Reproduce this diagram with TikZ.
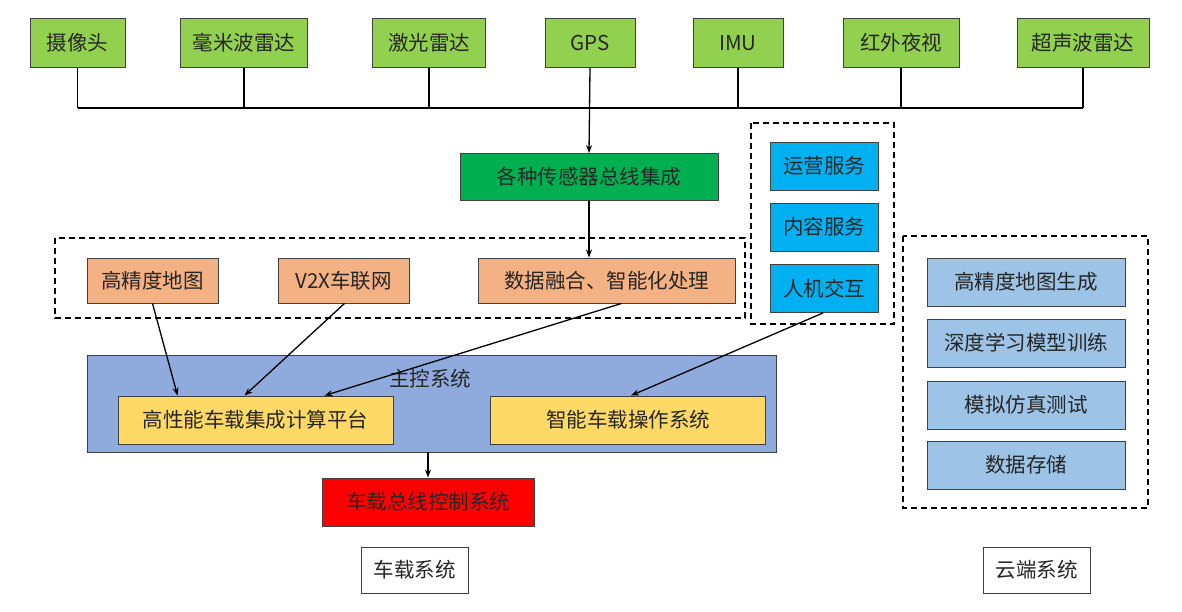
\documentclass[tikz,border=0pt]{standalone}
\usepackage{fontspec}
\setmainfont{Noto Sans CJK SC}
\usetikzlibrary{arrows.meta}
\definecolor{sensorgreen}{HTML}{92D050}
\definecolor{busgreen}{HTML}{00B050}
\definecolor{orangebox}{HTML}{F4B183}
\definecolor{servblue}{HTML}{00B0F0}
\definecolor{cloudblue}{HTML}{9DC3E6}
\definecolor{mainblue}{HTML}{8FAADC}
\definecolor{yellowbox}{HTML}{FFD966}
\definecolor{redbox}{HTML}{FF0000}
\definecolor{edge}{HTML}{404040}
\definecolor{ink}{HTML}{262626}
\begin{document}
\begin{tikzpicture}[x=1pt,y=-1pt,
  txt/.style={font=\fontsize{20.5}{24}\selectfont, text=ink},
  box/.style={draw=edge, line width=0.9pt, inner sep=0pt, txt},
  sensor/.style={box, fill=sensorgreen, minimum height=49pt},
  orng/.style={box, fill=orangebox, minimum height=45pt},
  serv/.style={box, fill=servblue, minimum width=108pt, minimum height=48pt},
  cloud/.style={box, fill=cloudblue, minimum width=198pt, minimum height=48pt},
  yel/.style={box, fill=yellowbox, minimum width=275pt, minimum height=48pt},
  group/.style={draw=black, line width=1.4pt, dash pattern=on 6pt off 4pt},
  conn/.style={draw=black, line width=1.3pt},
  arr/.style={conn, -{Stealth[length=8pt,width=6pt]}}
]
\useasboundingbox (0,0) rectangle (1182,612);

% sensors
\node[sensor, minimum width=95pt]  (s1) at (77.5,43) {摄像头};
\node[sensor, minimum width=127pt] (s2) at (244,43) {毫米波雷达};
\node[sensor, minimum width=113pt] (s3) at (429,43) {激光雷达};
\node[sensor, minimum width=90pt]  (s4) at (590,43) {GPS};
\node[sensor, minimum width=90pt]  (s5) at (738,43) {IMU};
\node[sensor, minimum width=116pt] (s6) at (901,43) {红外夜视};
\node[sensor, minimum width=132pt] (s7) at (1083,43) {超声波雷达};
\coordinate (bus) at (0,108);
\foreach \s in {s1,s2,s3,s5,s6,s7} {\draw[conn] (\s.south) -- (\s.south |- bus);}
\draw[conn] (s1.south |- bus) -- (s7.south |- bus);

% integration
\node[box, fill=busgreen, minimum width=258pt, minimum height=47pt] (integ) at (589,177) {各种传感器总线集成};
\draw[arr] (s4.south) -- (integ.north);

% left dashed group
\draw[group] (55,238) rectangle (745,318);
\node[orng, minimum width=131pt] (hdmap) at (152.5,280.5) {高精度地图};
\node[orng, minimum width=131pt] (v2x) at (343.5,280.5) {V2X车联网};
\node[orng, minimum width=257pt] (fusion) at (606.5,280.5) {数据融合、智能化处理};
\draw[arr] (integ.south) -- (fusion.north -| integ.south);

% services
\draw[group] (751,123) rectangle (894,324);
\node[serv] (op) at (824,166) {运营服务};
\node[serv] (content) at (824,227) {内容服务};
\node[serv] (hmi) at (824,288.5) {人机交互};

% cloud
\draw[group] (903,236) rectangle (1148,508);
\node[cloud] (c1) at (1026,282) {高精度地图生成};
\node[cloud] (c2) at (1026,343) {深度学习模型训练};
\node[cloud] (c3) at (1026,405) {模拟仿真测试};
\node[cloud] (c4) at (1026,465) {数据存储};

% main control
\node[box, fill=mainblue, minimum width=689pt, minimum height=97pt] (main) at (431.5,403.5) {};
\node[txt] (mainlbl) at (430,379) {主控系统};
\node[yel] (compute) at (255.5,420) {高性能车载集成计算平台};
\node[yel] (os) at (628,420) {智能车载操作系统};

\draw[arr] (hdmap.south) -- ([xshift=60pt]compute.north west);
\draw[arr] ([xshift=1pt]v2x.south) -- ([xshift=127pt]compute.north west);
\draw[arr] ([xshift=-114pt]fusion.south east) -- ([xshift=207pt]compute.north west);
\draw[arr] ([xshift=-1pt]hmi.south) -- ([xshift=141pt]os.north west);

% bus control
\node[box, fill=redbox, minimum width=212pt, minimum height=48pt] (can) at (428,502) {车载总线控制系统};
\draw[arr] (main.south -| can.north) -- (can.north);

% labels
\node[box, fill=white, minimum width=107pt, minimum height=46pt] (veh) at (414.5,570) {车载系统};
\node[box, fill=white, minimum width=107pt, minimum height=46pt] (cld) at (1036.5,570) {云端系统};
\end{tikzpicture}
\end{document}
